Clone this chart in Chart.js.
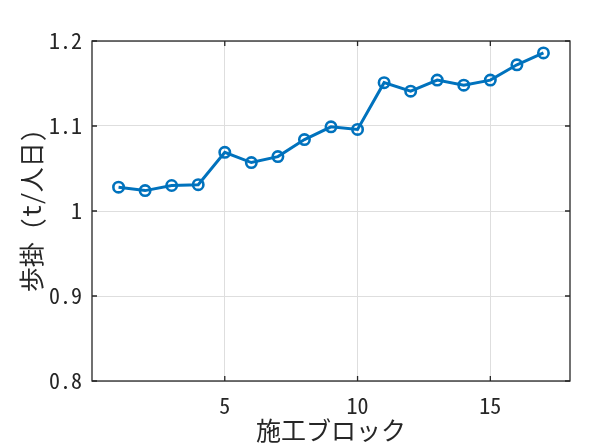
<!DOCTYPE html>
<html>
<head>
<meta charset="utf-8">
<script src="https://cdn.jsdelivr.net/npm/chart.js@4"></script>
<style>
  html, body { margin: 0; padding: 0; background: #fff; }
  canvas { display: block; }
</style>
</head>
<body>
<canvas id="chart" width="612" height="445"></canvas>
<script>
const blocks = [1, 2, 3, 4, 5, 6, 7, 8, 9, 10, 11, 12, 13, 14, 15, 16, 17]
const productivity = [1.028, 1.024, 1.030, 1.031, 1.069, 1.057, 1.064, 1.084, 1.099,
    1.096, 1.151, 1.141, 1.154, 1.148, 1.154, 1.172, 1.186]
const xTicks = [5, 10, 15]
const yTicks = [0.8, 0.9, 1.0, 1.1, 1.2]

const FONT = '"Noto Sans Mono CJK JP", "Noto Sans CJK JP", sans-serif'
const AXIS_COLOR = '#262626'

// MATLAB style box with inward ticks on all four sides
const boxPlugin = {
    id: 'matlabBox',
    afterDraw(chart) {
        const { ctx, chartArea: a, scales } = chart
        ctx.save()
        ctx.strokeStyle = AXIS_COLOR
        ctx.lineWidth = 1.3
        ctx.strokeRect(a.left, a.top, a.right - a.left, a.bottom - a.top)
        const len = 5
        ctx.beginPath()
        xTicks.forEach(v => {
            const px = scales.x.getPixelForValue(v)
            ctx.moveTo(px, a.bottom); ctx.lineTo(px, a.bottom - len)
            ctx.moveTo(px, a.top); ctx.lineTo(px, a.top + len)
        })
        yTicks.forEach(v => {
            const py = scales.y.getPixelForValue(v)
            ctx.moveTo(a.left, py); ctx.lineTo(a.left + len, py)
            ctx.moveTo(a.right, py); ctx.lineTo(a.right - len, py)
        })
        ctx.stroke()
        ctx.restore()
    }
}

new Chart(document.getElementById('chart').getContext('2d'), {
    type: 'line',
    data: {
        datasets: [{
            data: blocks.map((b, i) => ({ x: b, y: productivity[i] })),
            borderColor: '#0072BD',
            borderWidth: 3,
            pointRadius: 5.2,
            pointBorderWidth: 2.6,
            pointBackgroundColor: 'rgba(0,0,0,0)',
            pointBorderColor: '#0072BD',
            tension: 0
        }]
    },
    options: {
        responsive: false,
        animation: false,
        devicePixelRatio: 1,
        layout: { padding: { top: 41, right: 42, left: 0, bottom: 0 } },
        plugins: { legend: { display: false }, tooltip: { enabled: false } },
        scales: {
            x: {
                type: 'linear',
                min: 0,
                max: 18,
                afterBuildTicks: s => { s.ticks = xTicks.map(v => ({ value: v })) },
                afterFit: s => { s.height = 64 },
                grid: { color: '#dedede', lineWidth: 1, drawTicks: false },
                border: { display: false },
                ticks: {
                    padding: 11,
                    color: AXIS_COLOR,
                    font: { family: FONT, size: 22 },
                    maxRotation: 0
                },
                title: {
                    display: true,
                    text: '施工ブロック',
                    color: AXIS_COLOR,
                    font: { family: FONT, size: 25 },
                    padding: { top: 0, bottom: 0 }
                }
            },
            y: {
                min: 0.8,
                max: 1.2,
                afterBuildTicks: s => { s.ticks = yTicks.map(v => ({ value: v })) },
                afterFit: s => { s.width = 92 },
                grid: { color: '#dedede', lineWidth: 1, drawTicks: false },
                border: { display: false },
                ticks: {
                    padding: 10,
                    color: AXIS_COLOR,
                    font: { family: FONT, size: 22 },
                    callback: v => (v === 1 ? '1' : v.toFixed(1))
                },
                title: {
                    display: true,
                    text: '歩掛 (t/人日)',
                    color: AXIS_COLOR,
                    font: { family: FONT, size: 25 },
                    padding: { top: 16, bottom: 0 }
                }
            }
        }
    },
    plugins: [boxPlugin]
})
</script>
</body>
</html>
